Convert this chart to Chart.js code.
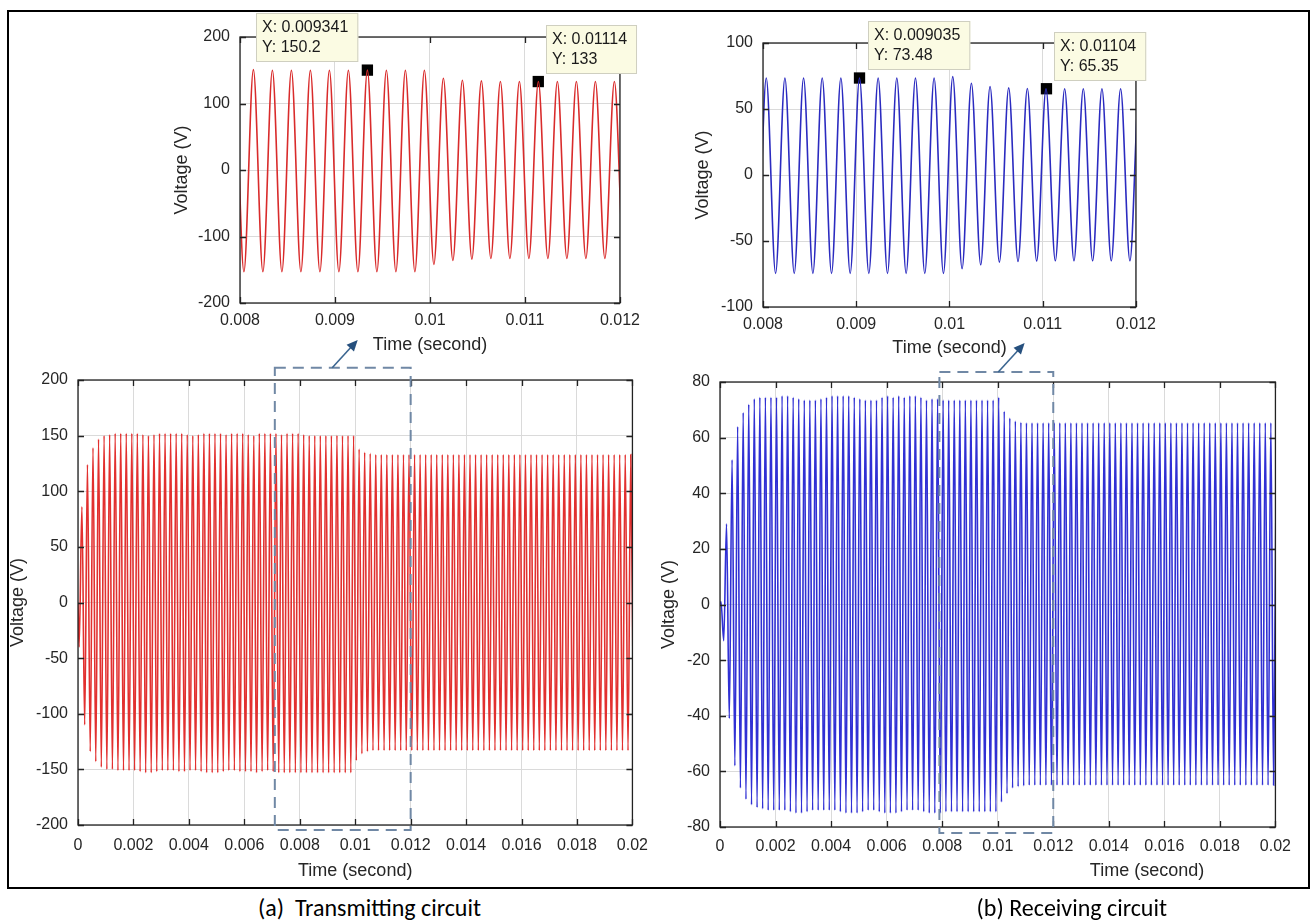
<!DOCTYPE html>
<html>
<head>
<meta charset="utf-8">
<script src="https://cdn.jsdelivr.net/npm/chart.js@4.4.1/dist/chart.umd.min.js"></script>
<style>
  html, body { margin: 0; padding: 0; background: #fff; }
  body { width: 1311px; height: 922px; position: relative; overflow: hidden; font-family: "Liberation Sans", Arial, sans-serif; }
  .frame { position: absolute; left: 7px; top: 10px; width: 1303px; height: 879px; border: 2px solid #000; box-sizing: border-box; }
  canvas { position: absolute; }
  .txt { position: absolute; white-space: pre; }
  .axis-title { font-size: 18px; line-height: 22px; color: #262626; transform: translate(-50%, -50%); }
  .caption { font-family: Carlito, Lato, "Open Sans", sans-serif; font-size: 24px; line-height: 26px; color: #000; top: 895px; }
</style>
</head>
<body>
<div class="frame"></div>
<canvas id="tx-zoom" width="477" height="351" style="left:171px;top:5px"></canvas>
<canvas id="rx-zoom" width="472" height="351" style="left:692px;top:8px"></canvas>
<canvas id="tx-full" width="652" height="549" style="left:7px;top:333px"></canvas>
<canvas id="rx-full" width="643" height="546" style="left:658px;top:334px"></canvas>
<div class="txt axis-title" style="left:1147px;top:870px">Time (second)</div>
<div class="txt caption" style="left:258px">(a)  Transmitting circuit</div>
<div class="txt caption" style="right:144px">(b) Receiving circuit</div>
<script>
// 5 kHz carrier: one extremum every half period
const PERIOD = 0.0002;
const START_V = 0;

// transmitting circuit: positive peaks / negative troughs, one per cycle
const TX_PEAK_T0 = 0.000141;
const TX_TROUGH_T0 = 0.000041;
const TX_PEAKS = [
    86, 124, 139, 147, 150, 151, 152, 152, 152, 152,
    152, 151, 150, 151, 152, 152, 152, 152, 152, 151,
    150, 151, 152, 152, 152, 152, 151, 152, 152, 152,
    151, 150, 152, 152, 152, 152, 151, 152, 152, 152,
    151, 150, 150, 150, 150, 150, 150.2, 150, 150, 150,
    138, 135, 134, 133, 133, 133, 133, 133, 133, 133,
    133, 133, 133, 133, 133, 133, 133, 133, 133, 133,
    133, 133, 133, 133, 133, 133, 133, 133, 133, 133,
    133, 133, 133, 133, 133, 133, 133, 133, 133, 133,
    133, 133, 133, 133, 133, 133, 133, 133, 133, 133,
];
const TX_TROUGHS = [
    -40, -110, -134, -143, -148, -150, -150, -151, -151, -151,
    -151, -152, -153, -153, -152, -151, -151, -151, -152, -152,
    -151, -151, -152, -153, -153, -153, -152, -151, -151, -152,
    -152, -152, -153, -152, -151, -152, -153, -153, -153, -153,
    -153, -153, -153, -153, -153, -153, -153, -153, -153, -153,
    -142, -136, -134, -133, -133, -133, -133, -133, -133, -133,
    -133, -133, -133, -133, -133, -133, -133, -133, -133, -133,
    -133, -133, -133, -133, -133, -133, -133, -133, -133, -133,
    -133, -133, -133, -133, -133, -133, -133, -133, -133, -133,
    -133, -133, -133, -133, -133, -133, -133, -133, -133, -133,
    -133,
];

// receiving circuit
const RX_PEAK_T0 = 0.000035;
const RX_TROUGH_T0 = 0.000135;
const RX_PEAKS = [
    1, 29, 52, 64, 69, 72, 74, 74.5, 74.5, 74.5,
    74.5, 75, 75, 74.5, 74, 73.5, 73.5, 73.5, 74, 74.5,
    75, 75, 75, 75, 74.5, 74, 73.5, 73.5, 73.5, 74.5,
    75, 74.5, 75, 74.5, 75, 75, 74.5, 73.5, 74, 74,
    73.5, 73.5, 73.5, 73.5, 73.5, 73.48, 73.5, 73.5, 73.5, 73.5,
    74.5, 69.5, 67, 66, 65.5, 65.35, 65.3, 65.3, 65.3, 65.3,
    65.3, 65.3, 65.3, 65.3, 65.3, 65.3, 65.3, 65.3, 65.3, 65.3,
    65.3, 65.3, 65.3, 65.3, 65.3, 65.3, 65.3, 65.3, 65.3, 65.3,
    65.3, 65.3, 65.3, 65.3, 65.3, 65.3, 65.3, 65.3, 65.3, 65.3,
    65.3, 65.3, 65.3, 65.3, 65.3, 65.3, 65.3, 65.3, 65.3, 65.3,
    65.3,
];
const RX_TROUGHS = [
    -13, -41, -58, -66, -70, -72, -73, -73.5, -74, -74,
    -74, -74, -74.5, -75, -75, -74.5, -74, -74, -74, -74,
    -74, -74.5, -75, -75, -75, -74.5, -74, -74, -74.5, -75,
    -75, -75, -74.5, -74, -74, -74, -74.5, -75, -75, -75,
    -74.5, -74.5, -74.5, -74.5, -74.5, -74.5, -74.5, -74.5, -74.5, -74.5,
    -71, -68, -66, -65.5, -65.2, -65, -65, -65, -65, -65,
    -65, -65, -65, -65, -65, -65, -65, -65, -65, -65,
    -65, -65, -65, -65, -65, -65, -65, -65, -65, -65,
    -65, -65, -65, -65, -65, -65, -65, -65, -65, -65,
    -65, -65, -65, -65, -65, -65, -65, -65, -65, -65,
];

// data tips on the zoomed plots
const TX_MARK_X = [0.009341, 0.01114];
const TX_MARK_Y = [150.2, 133];
const RX_MARK_X = [0.009035, 0.01104];
const RX_MARK_Y = [73.48, 65.35];

// tick labels
const ZOOM_X_TICKS = [0.008, 0.009, 0.01, 0.011, 0.012];
const FULL_X_TICKS = [0, 0.002, 0.004, 0.006, 0.008, 0.01, 0.012, 0.014, 0.016, 0.018, 0.02];
const TX_ZOOM_Y_TICKS = [-200, -100, 0, 100, 200];
const RX_ZOOM_Y_TICKS = [-100, -50, 0, 50, 100];
const TX_FULL_Y_TICKS = [-200, -150, -100, -50, 0, 50, 100, 150, 200];
const RX_FULL_Y_TICKS = [-80, -60, -40, -20, 0, 20, 40, 60, 80];

// zoom window marks on the full plots (dashed box + arrow)
const TX_BOX_X = [0.0071, 0.012];
const TX_BOX_Y = [211, -204.5];
const TX_ARROW_X = [0.00917, 0.01009];
const TX_ARROW_Y = [211, 236];
const RX_BOX_X = [0.0079, 0.012];
const RX_BOX_Y = [83.6, -82.2];
const RX_ARROW_X = [0.01002, 0.01097];
const RX_ARROW_Y = [83.6, 94];

const FONT = '"Liberation Sans", Arial, sans-serif';
const TEXT = '#262626';
const GRID = '#dadada';

function buildWave(peakT0, peaks, troughT0, troughs) {
    const pts = [{ x: 0, y: START_V }];
    peaks.forEach((v, k) => pts.push({ x: peakT0 + k * PERIOD, y: v }));
    troughs.forEach((v, k) => pts.push({ x: troughT0 + k * PERIOD, y: v }));
    return pts.sort((a, b) => a.x - b.x);
}

const TX_WAVE = buildWave(TX_PEAK_T0, TX_PEAKS, TX_TROUGH_T0, TX_TROUGHS);
const RX_WAVE = buildWave(RX_PEAK_T0, RX_PEAKS, RX_TROUGH_T0, RX_TROUGHS);

// MATLAB style box with inward ticks on all four sides
const matlabAxes = {
    id: 'matlabAxes',
    afterDatasetsDraw(chart) {
        const { ctx, chartArea: a, scales: { x, y } } = chart;
        ctx.save();
        ctx.strokeStyle = '#222';
        ctx.lineWidth = 1.3;
        ctx.beginPath();
        x.ticks.forEach(t => {
            const px = Math.round(x.getPixelForValue(t.value)) + 0.5;
            ctx.moveTo(px, a.bottom); ctx.lineTo(px, a.bottom - 6);
            ctx.moveTo(px, a.top); ctx.lineTo(px, a.top + 6);
        });
        y.ticks.forEach(t => {
            const py = Math.round(y.getPixelForValue(t.value)) + 0.5;
            ctx.moveTo(a.left, py); ctx.lineTo(a.left + 6, py);
            ctx.moveTo(a.right, py); ctx.lineTo(a.right - 6, py);
        });
        ctx.stroke();
        ctx.strokeRect(a.left, a.top, a.width, a.height);
        ctx.restore();
    }
};

const annot = {
    id: 'annot',
    afterDraw(chart, args, o) {
        const { ctx, scales: { x, y } } = chart;
        ctx.save();
        if (o.boxX) {
            const x0 = x.getPixelForValue(o.boxX[0]), x1 = x.getPixelForValue(o.boxX[1]);
            const y0 = y.getPixelForValue(o.boxY[0]), y1 = y.getPixelForValue(o.boxY[1]);
            ctx.setLineDash([11, 7]);
            ctx.strokeStyle = '#7088a5';
            ctx.lineWidth = 2;
            ctx.strokeRect(x0, y0, x1 - x0, y1 - y0);
            ctx.setLineDash([]);

            const ax0 = x.getPixelForValue(o.arrowX[0]), ay0 = y.getPixelForValue(o.arrowY[0]);
            const ax1 = x.getPixelForValue(o.arrowX[1]), ay1 = y.getPixelForValue(o.arrowY[1]);
            const ang = Math.atan2(ay1 - ay0, ax1 - ax0);
            const c = Math.cos(ang), s = Math.sin(ang);
            ctx.strokeStyle = '#3a6590';
            ctx.fillStyle = '#26507e';
            ctx.lineWidth = 1.6;
            ctx.beginPath();
            ctx.moveTo(ax0, ay0);
            ctx.lineTo(ax1 - 9 * c, ay1 - 9 * s);
            ctx.stroke();
            ctx.beginPath();
            ctx.moveTo(ax1, ay1);
            ctx.lineTo(ax1 - 11 * c + 5 * s, ay1 - 11 * s - 5 * c);
            ctx.lineTo(ax1 - 11 * c - 5 * s, ay1 - 11 * s + 5 * c);
            ctx.closePath();
            ctx.fill();
        }
        (o.tips || []).forEach(tip => {
            ctx.font = '16px ' + FONT;
            const l1 = 'X: ' + tip.x, l2 = 'Y: ' + tip.y;
            const w = Math.max(ctx.measureText(l1).width, ctx.measureText(l2).width) + 16;
            const h = 49;
            const mx = x.getPixelForValue(tip.x), my = y.getPixelForValue(tip.y);
            const left = Math.round(tip.side === 'left' ? mx - 9 - w : mx + 8);
            const top = Math.round(my - 8 - h);
            ctx.fillStyle = '#fbfbe3';
            ctx.fillRect(left, top, w, h);
            ctx.strokeStyle = '#cfcfc0';
            ctx.lineWidth = 1;
            ctx.strokeRect(left + 0.5, top + 0.5, w - 1, h - 1);
            ctx.fillStyle = '#1a1a1a';
            ctx.textAlign = 'left';
            ctx.textBaseline = 'middle';
            ctx.fillText(l1, left + 6, top + 15);
            ctx.fillText(l2, left + 6, top + 35);
        });
        ctx.restore();
    }
};

function makeChart(id, cfg) {
    const datasets = [{
        data: cfg.wave,
        borderColor: cfg.color,
        borderWidth: cfg.lineWidth,
        pointRadius: 0,
        cubicInterpolationMode: 'monotone',
        capBezierPoints: false,
    }];
    if (cfg.markX) {
        datasets.push({
            data: cfg.markX.map((v, i) => ({ x: v, y: cfg.markY[i] })),
            showLine: false,
            pointStyle: 'rect',
            pointRadius: 8,
            backgroundColor: '#000',
            borderColor: '#000',
            borderWidth: 0,
        });
    }
    const tips = cfg.markX ? cfg.markX.map((v, i) => ({ x: v, y: cfg.markY[i], side: cfg.tipSides[i] })) : [];

    return new Chart(document.getElementById(id), {
        type: 'line',
        data: { datasets },
        plugins: [matlabAxes, annot],
        options: {
            responsive: false,
            animation: false,
            events: [],
            layout: { padding: { left: 0, top: cfg.T, right: cfg.R, bottom: 0 } },
            elements: { line: { capBezierPoints: false } },
            plugins: {
                legend: { display: false },
                tooltip: { enabled: false },
                annot: { tips, boxX: cfg.boxX, boxY: cfg.boxY, arrowX: cfg.arrowX, arrowY: cfg.arrowY },
            },
            scales: {
                x: {
                    type: 'linear',
                    min: cfg.xTicks[0],
                    max: cfg.xTicks[cfg.xTicks.length - 1],
                    afterBuildTicks: axis => { axis.ticks = cfg.xTicks.map(v => ({ value: v })); },
                    afterFit: axis => { axis.height = cfg.B; },
                    grid: { color: GRID, drawTicks: false },
                    border: { display: false },
                    ticks: {
                        color: TEXT,
                        font: { size: 16, family: FONT },
                        padding: cfg.xPad,
                        maxRotation: 0,
                        autoSkip: false,
                        callback: v => String(v),
                    },
                    title: {
                        display: cfg.xTitle,
                        text: 'Time (second)',
                        color: TEXT,
                        font: { size: 18, family: FONT },
                        padding: 0,
                    },
                },
                y: {
                    type: 'linear',
                    min: cfg.yTicks[0],
                    max: cfg.yTicks[cfg.yTicks.length - 1],
                    afterBuildTicks: axis => { axis.ticks = cfg.yTicks.map(v => ({ value: v })); },
                    afterFit: axis => { axis.width = cfg.L; },
                    grid: { color: GRID, drawTicks: false },
                    border: { display: false },
                    ticks: {
                        color: TEXT,
                        font: { size: 16, family: FONT },
                        padding: 10,
                        callback: v => String(v),
                    },
                    title: {
                        display: true,
                        text: 'Voltage (V)',
                        color: TEXT,
                        font: { size: 18, family: FONT },
                        padding: 0,
                    },
                },
            },
        },
    });
}

makeChart('tx-zoom', {
    wave: TX_WAVE, color: '#d92b2b', lineWidth: 1.6,
    xTicks: ZOOM_X_TICKS, yTicks: TX_ZOOM_Y_TICKS,
    markX: TX_MARK_X, markY: TX_MARK_Y, tipSides: ['left', 'right'],
    L: 69, T: 32, R: 25, B: 53, xPad: 8, xTitle: true,
});

makeChart('rx-zoom', {
    wave: RX_WAVE, color: '#2b2bc0', lineWidth: 1.6,
    xTicks: ZOOM_X_TICKS, yTicks: RX_ZOOM_Y_TICKS,
    markX: RX_MARK_X, markY: RX_MARK_Y, tipSides: ['right', 'right'],
    L: 71, T: 35, R: 20, B: 52, xPad: 8, xTitle: true,
});

makeChart('tx-full', {
    wave: TX_WAVE, color: '#e2302f', lineWidth: 1.6,
    xTicks: FULL_X_TICKS, yTicks: TX_FULL_Y_TICKS,
    boxX: TX_BOX_X, boxY: TX_BOX_Y, arrowX: TX_ARROW_X, arrowY: TX_ARROW_Y,
    L: 71, T: 47, R: 16, B: 57, xPad: 11, xTitle: true,
});

makeChart('rx-full', {
    wave: RX_WAVE, color: '#3030d4', lineWidth: 1.6,
    xTicks: FULL_X_TICKS, yTicks: RX_FULL_Y_TICKS,
    boxX: RX_BOX_X, boxY: RX_BOX_Y, arrowX: RX_ARROW_X, arrowY: RX_ARROW_Y,
    L: 62, T: 48, R: 16, B: 53, xPad: 10, xTitle: false,
});
</script>
</body>
</html>
